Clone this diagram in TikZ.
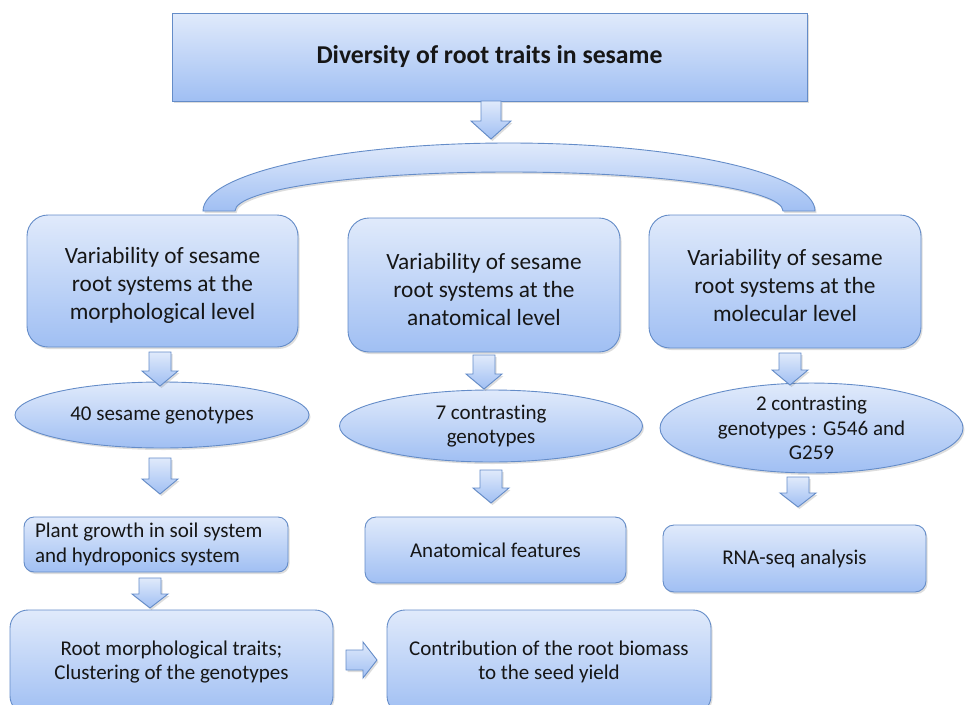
\documentclass[tikz,border=0pt]{standalone}
\usepackage{fontspec}
\setmainfont{Carlito}[Ligatures=NoCommon]
\usetikzlibrary{shapes.geometric,shadows}
\definecolor{ftop}{RGB}{224,234,251}
\definecolor{fbot}{RGB}{160,191,243}
\definecolor{edgec}{RGB}{100,140,200}
\definecolor{txtc}{RGB}{22,22,22}
\newcommand\fszT{\fontsize{25.7}{30}\selectfont\bfseries}
\newcommand\fszA{\fontsize{23.3}{28}\selectfont}
\newcommand\fszB{\fontsize{21}{24.5}\selectfont}
\newcommand\tallstrut{\rule{0pt}{25pt}}
\newcommand\contrasting{contras\mbox{t}ing}
\begin{document}
\begin{tikzpicture}[x=1pt,y=-1pt,
  fillgrad/.style={top color=ftop,bottom color=fbot,draw=edgec,line width=0.9pt},
  shad/.style={drop shadow={shadow xshift=1.5pt,shadow yshift=-2pt,opacity=0.22,fill=black!60}},
  rbox/.style={fillgrad,shad,rectangle,rounded corners=#1,inner sep=0pt,text=txtc,align=center,font=\fszB},
  rbox/.default=20pt,
  lbox/.style={rbox=21pt,font=\fszA},
  ebox/.style={fillgrad,shad,ellipse,inner sep=0pt,text=txtc,align=center,font=\fszB},
  barrow/.style={fillgrad,shad,line join=miter},
  pics/darr/.style n args={4}{code={%
    \path[barrow] (-#2,0) -- (#2,0) -- (#2,#1-#4) -- (#3,#1-#4) -- (0,#1)
      -- (-#3,#1-#4) -- (-#2,#1-#4) -- cycle;}},
  pics/rarr/.style n args={4}{code={%
    \path[barrow] (0,-#2) -- (0,#2) -- (#1-#4,#2) -- (#1-#4,#3) -- (#1,0)
      -- (#1-#4,-#3) -- (#1-#4,-#2) -- cycle;}}
]
\useasboundingbox (0,0) rectangle (966,704);
\clip (0,0) rectangle (966,704);

% title
\node[fillgrad,shad,rectangle,inner sep=0pt,minimum width=635pt,minimum height=88pt,text=txtc,font=\fszT]
  (title) at (489.5,57) {Diversity of root traits in sesame};

% arch
\path[barrow] (203,211) arc[start angle=180,end angle=360,x radius=306,y radius=68]
  -- (783,211) arc[start angle=360,end angle=180,x radius=274,y radius=39] -- cycle;

% level boxes
\node[lbox,minimum width=271pt,minimum height=132pt] (lev1) at (162.5,281)
  {\tallstrut Variability of sesame\\ root systems at the\\ morphological level};
\node[lbox,minimum width=272pt,minimum height=134pt] (lev2) at (484,285)
  {\tallstrut Variability of sesame\\ root systems at the\\ anatomical level};
\node[lbox,minimum width=272pt,minimum height=133pt] (lev3) at (785,281.5)
  {\tallstrut Variability of sesame\\ root systems at the\\ molecular level};

% ellipses
\node[ebox,minimum width=294pt,minimum height=66pt] (ell1) at (162,415)
  {40 sesame genotypes};
\node[ebox,minimum width=303pt,minimum height=72pt] (ell2) at (491,426)
  {7 \contrasting\\ genotypes};
\node[ebox,minimum width=303pt,minimum height=78pt] (ell3) at (811.5,428)
  {2 \contrasting\\ genotypes : G546 and\\ G259};

% lower boxes
\node[rbox=10pt,minimum width=264pt,minimum height=55pt,text width=242pt,align=flush left] (plant) at (156,544.5)
  {Plant growth in soil system\\ and hydroponics system};
\node[rbox=11pt,minimum width=261pt,minimum height=66pt] (anat) at (495.5,550)
  {Anatomical features};
\node[rbox=11pt,minimum width=263pt,minimum height=67pt] (rna) at (794.5,558.5)
  {RNA-seq analysis};
\node[rbox=18pt,minimum width=323pt,minimum height=104pt] (root) at (171.5,662)
  {Root morphological traits;\\ Clustering of the genotypes};
\node[rbox=18pt,minimum width=324pt,minimum height=104pt] (contrib) at (549,662)
  {Contribution of the root biomass\\ to the seed yield};

% block arrows
\pic at (491,101) {darr={38}{10}{20}{18}};
\pic at (160,352) {darr={34}{11}{18}{15}};
\pic at (160,458) {darr={36}{11}{18}{15}};
\pic at (150,578) {darr={30}{11}{18}{14}};
\pic at (484,355) {darr={34}{11}{18}{15}};
\pic at (491,470) {darr={33}{11}{18}{15}};
\pic at (790,353) {darr={32}{11}{18}{15}};
\pic at (798,477) {darr={30}{11}{18}{14}};
\pic at (346,660) {rarr={31}{10}{18}{14}};
\end{tikzpicture}
\end{document}
